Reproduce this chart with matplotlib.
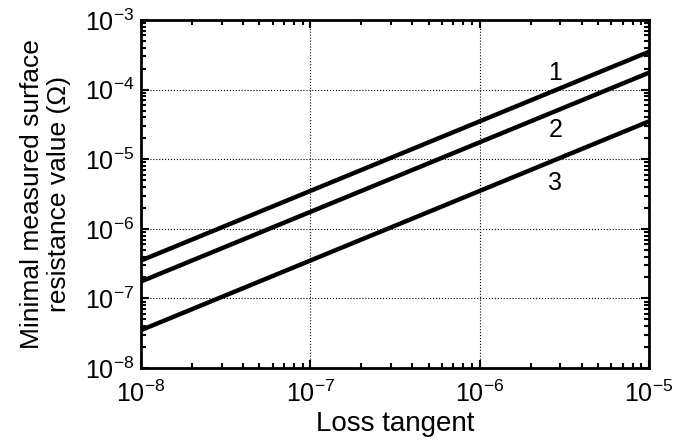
import matplotlib
matplotlib.use('Agg')
import matplotlib.pyplot as plt
from matplotlib.ticker import LogLocator, NullFormatter

plt.rcParams['font.family'] = ['Liberation Sans', 'DejaVu Sans']

# loss tangent endpoints and the minimal surface resistance for each curve
tan_d = [1e-8, 1e-5]
curve_1 = [3.5e-7, 3.5e-4]
curve_2 = [1.75e-7, 1.75e-4]
curve_3 = [3.5e-8, 3.5e-5]
labels = ['1', '2', '3']
label_pos = [(2.8e-6, 1.74e-4), (2.8e-6, 2.6e-5), (2.8e-6, 4.6e-6)]

fig = plt.figure(figsize=(7, 4.47), dpi=100)
ax = fig.add_axes([0.2014, 0.1767, 0.7257, 0.7785])

for ys in (curve_1, curve_2, curve_3):
    ax.plot(tan_d, ys, color='black', lw=3.2, solid_capstyle='butt')

for t, (x, y) in zip(labels, label_pos):
    ax.text(x, y, t, fontsize=18, ha='center', va='center')

ax.set_xscale('log')
ax.set_yscale('log')
ax.set_xlim(1e-8, 1e-5)
ax.set_ylim(1e-8, 1e-3)
ax.xaxis.set_major_locator(LogLocator(base=10, numticks=10))
ax.yaxis.set_major_locator(LogLocator(base=10, numticks=10))
ax.xaxis.set_minor_locator(LogLocator(base=10, subs=range(2, 10), numticks=20))
ax.yaxis.set_minor_locator(LogLocator(base=10, subs=range(2, 10), numticks=20))
ax.xaxis.set_minor_formatter(NullFormatter())
ax.yaxis.set_minor_formatter(NullFormatter())

ax.grid(True, which='major', linestyle=':', color='black', lw=0.8)
ax.tick_params(which='both', direction='in', top=True, right=True, width=1.5)
ax.tick_params(which='major', length=6, labelsize=18)
ax.tick_params(axis='x', which='major', pad=9)
ax.tick_params(axis='y', which='major', pad=5)
ax.tick_params(which='minor', length=3.5)
for s in ax.spines.values():
    s.set_linewidth(2)

ax.set_xlabel('Loss tangent', fontsize=20, labelpad=3)
ax.set_ylabel('Minimal measured surface\nresistance value (\u03a9)', fontsize=19,
              labelpad=10, linespacing=1.15)

fig.savefig('out.png', dpi=100)
